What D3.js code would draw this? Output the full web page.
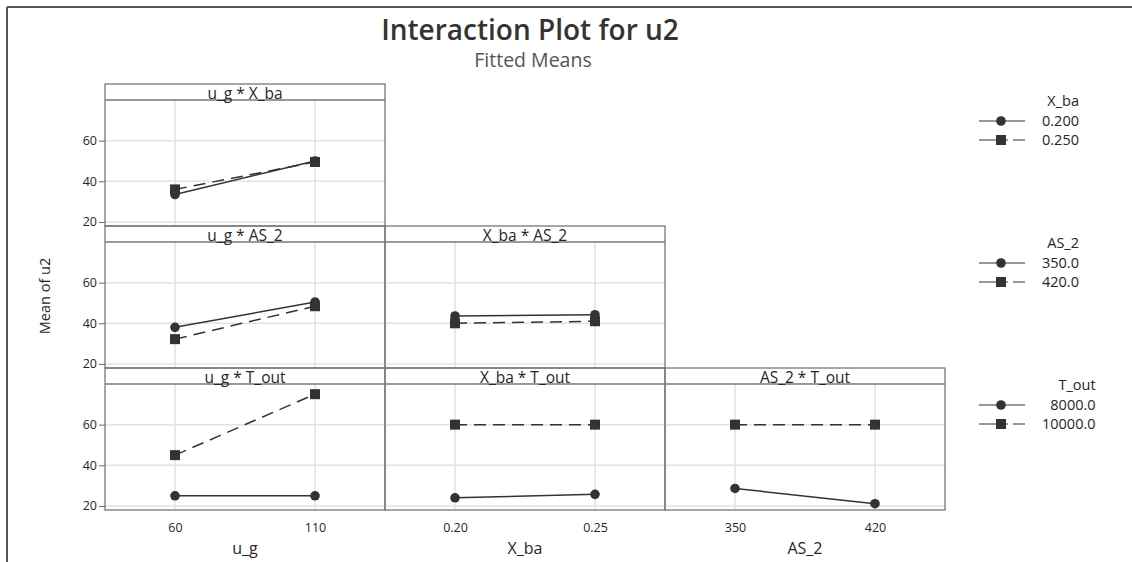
<!DOCTYPE html>
<html>
<head>
<meta charset="utf-8">
<script src="https://cdn.jsdelivr.net/npm/d3@7"></script>
<style>
  html, body { margin: 0; padding: 0; background: #fff; }
  svg { display: block; font-family: "Open Sans", "Noto Sans", sans-serif; }
</style>
</head>
<body>
<svg id="chart" width="1132" height="562"></svg>
<script>
// ---- data ----
const xFactors = ["u_g", "X_ba", "AS_2"];           // columns
const traceFactors = ["X_ba", "AS_2", "T_out"];      // rows
const xLevels = {
  "u_g": ["60", "110"],
  "X_ba": ["0.20", "0.25"],
  "AS_2": ["350", "420"]
};
const legendLabels = {
  "X_ba": ["0.200", "0.250"],
  "AS_2": ["350.0", "420.0"],
  "T_out": ["8000.0", "10000.0"]
};
const yTicks = [20, 40, 60];
const yDomain = [18, 80];

// series values: [low level of trace, high level of trace], each over the two x levels
const ugXba_low   = [33.5, 50];
const ugXba_high  = [36, 49.5];
const ugAs2_low   = [38, 50.5];
const ugAs2_high  = [32.2, 48.4];
const xbaAs2_low  = [43.6, 44.2];
const xbaAs2_high = [40, 41];
const ugTout_low   = [25, 25];
const ugTout_high  = [45, 75];
const xbaTout_low  = [24, 25.7];
const xbaTout_high = [60, 60];
const as2Tout_low  = [28.6, 21.1];
const as2Tout_high = [60, 60];

const panels = [
  { row: 0, col: 0, title: "u_g * X_ba",  series: [ugXba_low, ugXba_high] },
  { row: 1, col: 0, title: "u_g * AS_2",  series: [ugAs2_low, ugAs2_high] },
  { row: 1, col: 1, title: "X_ba * AS_2", series: [xbaAs2_low, xbaAs2_high] },
  { row: 2, col: 0, title: "u_g * T_out",  series: [ugTout_low, ugTout_high] },
  { row: 2, col: 1, title: "X_ba * T_out", series: [xbaTout_low, xbaTout_high] },
  { row: 2, col: 2, title: "AS_2 * T_out", series: [as2Tout_low, as2Tout_high] }
];

// ---- layout ----
const left = 105, colW = 280;
const rowTops = [84, 226, 368];
const headerH = 16, plotH = 126;
const lineColor = "#333";
const borderColor = "#777";
const gridColor = "#e2e2e2";
const dashPattern = "12,7";
const textColor = "#262626";

const svg = d3.select("#chart");

// outer frame (top and left edges)
svg.append("line").attr("x1", 7).attr("x2", 1132).attr("y1", 7).attr("y2", 7)
  .attr("stroke", "#555").attr("stroke-width", 2);
svg.append("line").attr("x1", 7).attr("x2", 7).attr("y1", 7).attr("y2", 562)
  .attr("stroke", "#555").attr("stroke-width", 2);

// titles
svg.append("text").attr("x", 530).attr("y", 40).attr("text-anchor", "middle")
  .attr("font-size", 28).attr("font-weight", 600).attr("fill", "#333")
  .text("Interaction Plot for u2");
svg.append("text").attr("x", 533).attr("y", 67).attr("text-anchor", "middle")
  .attr("font-size", 19.5).attr("fill", "#555")
  .text("Fitted Means");

function xScaleFor(col) {
  return d3.scalePoint()
    .domain(xLevels[xFactors[col]])
    .range([left + col * colW, left + (col + 1) * colW])
    .padding(0.5);
}
function yScaleFor(row) {
  const top = rowTops[row] + headerH;
  return d3.scaleLinear().domain(yDomain).range([top + plotH, top]);
}

panels.forEach(p => {
  const x = xScaleFor(p.col);
  const y = yScaleFor(p.row);
  const x0 = left + p.col * colW, x1 = x0 + colW;
  const top = rowTops[p.row];
  const g = svg.append("g");

  // grid
  yTicks.forEach(t => {
    g.append("line").attr("x1", x0).attr("x2", x1).attr("y1", y(t)).attr("y2", y(t))
      .attr("stroke", gridColor).attr("stroke-width", 1.5);
  });
  x.domain().forEach(lv => {
    g.append("line").attr("x1", x(lv)).attr("x2", x(lv))
      .attr("y1", top + headerH).attr("y2", top + headerH + plotH)
      .attr("stroke", gridColor).attr("stroke-width", 1.5);
  });

  // header
  g.append("rect").attr("x", x0).attr("y", top).attr("width", colW).attr("height", headerH + plotH)
    .attr("fill", "none").attr("stroke", borderColor).attr("stroke-width", 1.3);
  g.append("line").attr("x1", x0).attr("x2", x1).attr("y1", top + headerH).attr("y2", top + headerH)
    .attr("stroke", borderColor).attr("stroke-width", 1.3);
  g.append("text").attr("x", (x0 + x1) / 2).attr("y", top + headerH - 1)
    .attr("text-anchor", "middle").attr("font-size", 15.5).attr("fill", textColor)
    .text(p.title);

  // series
  const levels = x.domain();
  p.series.forEach((vals, si) => {
    const pts = levels.map((lv, i) => [x(lv), y(vals[i])]);
    g.append("path").attr("d", d3.line()(pts)).attr("fill", "none")
      .attr("stroke", lineColor).attr("stroke-width", 1.5)
      .attr("stroke-dasharray", si === 1 ? dashPattern : null);
    pts.forEach(pt => {
      if (si === 0) {
        g.append("circle").attr("cx", pt[0]).attr("cy", pt[1]).attr("r", 4.8).attr("fill", "#333");
      } else {
        g.append("rect").attr("x", pt[0] - 5).attr("y", pt[1] - 5).attr("width", 10).attr("height", 10).attr("fill", "#333");
      }
    });
  });
});

// y axes on left column
rowTops.forEach((rt, row) => {
  const y = yScaleFor(row);
  const ax = svg.append("g").attr("transform", `translate(${left},0)`)
    .call(d3.axisLeft(y).tickValues(yTicks).tickSize(6).tickPadding(2).tickFormat(d3.format("d")));
  ax.select(".domain").remove();
  ax.selectAll(".tick line").attr("stroke", "#666");
  ax.selectAll(".tick text").attr("font-size", 12.5).attr("fill", textColor)
    .attr("font-family", "'Open Sans', sans-serif");
});

// x axes below bottom row
const bottom = rowTops[2] + headerH + plotH;
xFactors.forEach((f, col) => {
  const x = xScaleFor(col);
  const ax = svg.append("g").attr("transform", `translate(0,${bottom})`)
    .call(d3.axisBottom(x).tickSize(0).tickPadding(13));
  ax.select(".domain").remove();
  ax.selectAll(".tick text").attr("font-size", 12.5).attr("fill", textColor)
    .attr("font-family", "'Open Sans', sans-serif");
  svg.append("text").attr("x", left + col * colW + colW / 2).attr("y", 554)
    .attr("text-anchor", "middle").attr("font-size", 16).attr("fill", textColor).text(f);
});

// y axis title
svg.append("text").attr("transform", "translate(50,296) rotate(-90)")
  .attr("text-anchor", "middle").attr("font-size", 14.5).attr("fill", textColor).text("Mean of u2");

// legends
traceFactors.forEach((f, row) => {
  const rt = rowTops[row];
  const lg = svg.append("g");
  const texts = legendLabels[f].map((lab, i) =>
    lg.append("text").attr("x", 1042).attr("y", rt + 37 + i * 19 + 5)
      .attr("font-size", 14.5).attr("fill", textColor).text(lab));
  const maxW = d3.max(texts, t => t.node().getComputedTextLength());
  texts.forEach(t => t.attr("x", 1042 + maxW).attr("text-anchor", "end"));
  lg.append("text").attr("x", 1042 + maxW).attr("y", rt + 22).attr("text-anchor", "end")
    .attr("font-size", 14.5).attr("fill", textColor).text(f);
  legendLabels[f].forEach((lab, i) => {
    const cy = rt + 37 + i * 19;
    if (i === 0) {
      lg.append("line").attr("x1", 979).attr("x2", 1025).attr("y1", cy).attr("y2", cy)
        .attr("stroke", lineColor).attr("stroke-width", 1.2);
      lg.append("circle").attr("cx", 1001).attr("cy", cy).attr("r", 4.8).attr("fill", "#333");
    } else {
      lg.append("line").attr("x1", 979).attr("x2", 1025).attr("y1", cy).attr("y2", cy)
        .attr("stroke", lineColor).attr("stroke-width", 1.2).attr("stroke-dasharray", "29,5,12");
      lg.append("rect").attr("x", 996).attr("y", cy - 5).attr("width", 10).attr("height", 10).attr("fill", "#333");
    }
  });
});
</script>
</body>
</html>
